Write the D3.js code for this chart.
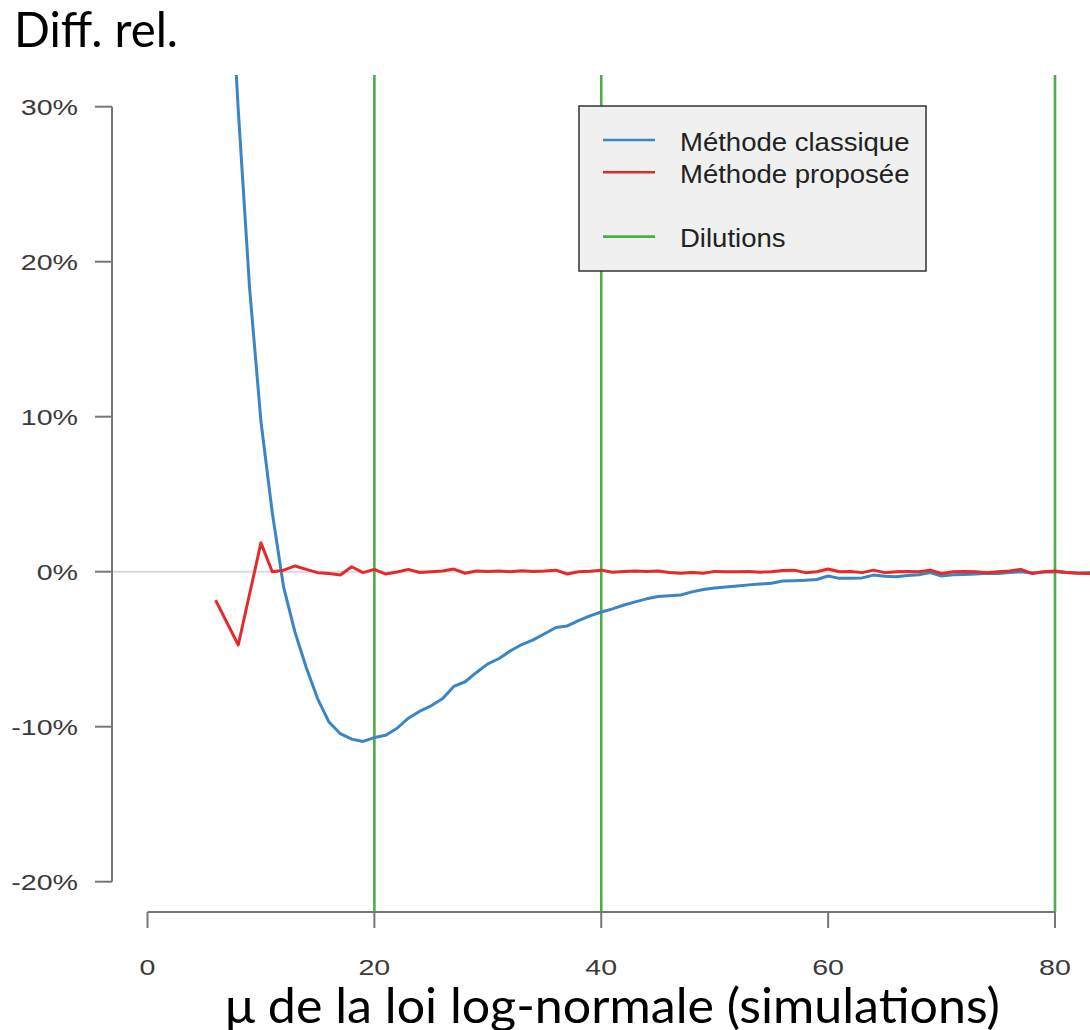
<!DOCTYPE html>
<html>
<head>
<meta charset="utf-8">
<script src="https://cdn.jsdelivr.net/npm/d3@7"></script>
<style>
  html, body { margin: 0; padding: 0; background: #fff; }
  svg { display: block; }
</style>
</head>
<body>
<svg id="chart" width="1090" height="1030"></svg>
<script>
/* ── Data ──────────────────────────────────────────────────── */
const muClassic = [6, 7, 8, 9, 10, 11, 12, 13, 14, 15, 16, 17, 18, 19, 20, 21, 22, 23, 24, 25,
  26, 27, 28, 29, 30, 31, 32, 33, 34, 35, 36, 37, 38, 39, 40, 41, 42, 43, 44, 45,
  46, 47, 48, 49, 50, 51, 52, 53, 54, 55, 56, 57, 58, 59, 60, 61, 62, 63, 64, 65,
  66, 67, 68, 69, 70, 71, 72, 73, 74, 75, 76, 77, 78, 79, 80, 81, 82, 83, 84];
const diffClassic = [58, 43, 29.8, 18.3, 9.7, 3.8, -1.0, -3.9, -6.2, -8.2, -9.7, -10.45, -10.8, -10.95, -10.7, -10.55, -10.1, -9.45, -9.0, -8.65,
  -8.2, -7.4, -7.1, -6.5, -5.95, -5.6, -5.1, -4.7, -4.4, -4.0, -3.6, -3.5, -3.15, -2.85, -2.6, -2.4, -2.15, -1.95, -1.75, -1.6,
  -1.55, -1.5, -1.3, -1.15, -1.05, -0.98, -0.92, -0.85, -0.8, -0.75, -0.6, -0.58, -0.55, -0.5, -0.28, -0.43, -0.42, -0.4, -0.22, -0.3,
  -0.32, -0.25, -0.2, -0.06, -0.28, -0.2, -0.18, -0.15, -0.1, -0.12, -0.05, 0, -0.08, -0.02, 0, -0.05, -0.08, -0.06, -0.08];

const muProposed = [6, 8, 10, 11, 12, 13, 14, 15, 16, 17, 18, 19, 20, 21, 22, 23, 24, 25,
  26, 27, 28, 29, 30, 31, 32, 33, 34, 35, 36, 37, 38, 39, 40, 41, 42, 43, 44, 45,
  46, 47, 48, 49, 50, 51, 52, 53, 54, 55, 56, 57, 58, 59, 60, 61, 62, 63, 64, 65,
  66, 67, 68, 69, 70, 71, 72, 73, 74, 75, 76, 77, 78, 79, 80, 81, 82, 83, 84];
const diffProposed = [-1.83, -4.73, 1.86, 0, 0.1, 0.37, 0.15, -0.06, -0.12, -0.21, 0.32, -0.06, 0.15, -0.15, -0.02, 0.15, -0.05, 0,
  0.05, 0.17, -0.1, 0.05, 0.02, 0.05, 0, 0.06, 0.02, 0.05, 0.1, -0.15, 0, 0.03, 0.1, -0.04, 0.02, 0.04, 0.02, 0.04,
  -0.05, -0.1, -0.05, -0.1, 0.02, 0, 0, 0.02, -0.03, 0, 0.08, 0.1, -0.06, 0, 0.17, 0, 0.02, -0.06, 0.1, -0.06,
  0, 0.02, 0, 0.1, -0.12, 0, 0.02, 0, -0.06, 0, 0.05, 0.15, -0.12, 0, 0.05, -0.05, -0.1, -0.12, -0.1];

const dilutions = [20, 40, 80];
const xTicks = [0, 20, 40, 60, 80];
const yTicks = [-20, -10, 0, 10, 20, 30];
const legendLabels = ['Méthode classique', 'Méthode proposée', '', 'Dilutions'];

const BLUE = '#3a85c4', RED = '#e52a2a', GREEN = '#4cae47';

/* ── Scales ────────────────────────────────────────────────── */
const svg = d3.select('#chart');
const x = d3.scaleLinear().domain([0, 80]).range([147.5, 1055]);
const y = d3.scaleLinear().domain([-20, 30]).range([881.7, 106.7]);
const plotTop = 75, plotBottom = 912, plotLeft = 112, plotRight = 1090;

svg.append('defs').append('clipPath').attr('id', 'plot-clip')
  .append('rect')
  .attr('x', plotLeft).attr('y', plotTop)
  .attr('width', plotRight - plotLeft).attr('height', plotBottom - plotTop);

const plot = svg.append('g').attr('clip-path', 'url(#plot-clip)');

// zero reference line
plot.append('line')
  .attr('x1', plotLeft).attr('x2', plotRight)
  .attr('y1', y(0)).attr('y2', y(0))
  .attr('stroke', '#dadada').attr('stroke-width', 2);

// dilution markers
plot.selectAll('line.dil').data(dilutions).enter().append('line')
  .attr('class', 'dil')
  .attr('x1', d => x(d)).attr('x2', d => x(d))
  .attr('y1', plotTop).attr('y2', plotBottom)
  .attr('stroke', GREEN).attr('stroke-width', 2.6);

const line = d3.line().x(d => x(d[0])).y(d => y(d[1]));

plot.append('path')
  .datum(d3.zip(muClassic, diffClassic))
  .attr('d', line)
  .attr('fill', 'none').attr('stroke', BLUE).attr('stroke-width', 3)
  .attr('stroke-linejoin', 'round');

plot.append('path')
  .datum(d3.zip(muProposed, diffProposed))
  .attr('d', line)
  .attr('fill', 'none').attr('stroke', RED).attr('stroke-width', 3)
  .attr('stroke-linejoin', 'round');

/* ── Axes (R style, stretched labels) ──────────────────────── */
const AXIS_COL = '#777';
const yAxis = svg.append('g');
yAxis.append('line')
  .attr('x1', 112).attr('x2', 112)
  .attr('y1', y(30)).attr('y2', y(-20))
  .attr('stroke', AXIS_COL).attr('stroke-width', 2);
yAxis.selectAll('line.tick').data(yTicks).enter().append('line')
  .attr('class', 'tick')
  .attr('x1', 95).attr('x2', 112)
  .attr('y1', d => y(d)).attr('y2', d => y(d))
  .attr('stroke', AXIS_COL).attr('stroke-width', 2);
yAxis.selectAll('text').data(yTicks).enter().append('text')
  .attr('transform', d => `translate(78,${y(d) + 7.8}) scale(1.33,1)`)
  .attr('text-anchor', 'end')
  .attr('font-family', 'Liberation Sans, Arial, sans-serif')
  .attr('font-size', 21.5)
  .attr('fill', '#3a3a3a')
  .text(d => d + '%');

const xAxis = svg.append('g');
xAxis.append('line')
  .attr('x1', x(0)).attr('x2', x(80))
  .attr('y1', 912).attr('y2', 912)
  .attr('stroke', AXIS_COL).attr('stroke-width', 2);
xAxis.selectAll('line.tick').data(xTicks).enter().append('line')
  .attr('class', 'tick')
  .attr('x1', d => x(d)).attr('x2', d => x(d))
  .attr('y1', 912).attr('y2', 928)
  .attr('stroke', AXIS_COL).attr('stroke-width', 2);
xAxis.selectAll('text').data(xTicks).enter().append('text')
  .attr('transform', d => `translate(${x(d)},975) scale(1.33,1)`)
  .attr('text-anchor', 'middle')
  .attr('font-family', 'Liberation Sans, Arial, sans-serif')
  .attr('font-size', 21.5)
  .attr('fill', '#3a3a3a')
  .text(d => d);

/* ── Legend ────────────────────────────────────────────────── */
const legend = svg.append('g');
legend.append('rect')
  .attr('x', 579).attr('y', 106).attr('width', 347).attr('height', 165)
  .attr('fill', '#f0f0f0').attr('stroke', '#333').attr('stroke-width', 1.5);
const legendColors = [BLUE, RED, null, GREEN];
legendLabels.forEach((lab, i) => {
  if (!lab) return;
  const ly = 140 + i * 32.2;
  legend.append('line')
    .attr('x1', 603).attr('x2', 655).attr('y1', ly).attr('y2', ly)
    .attr('stroke', legendColors[i]).attr('stroke-width', 2.6);
  legend.append('text')
    .attr('transform', `translate(680,${ly + 10.5}) scale(1.08,1)`)
    .attr('font-family', 'Liberation Sans, Arial, sans-serif')
    .attr('font-size', 25.5)
    .attr('fill', '#222')
    .text(lab);
});

/* ── Titles ────────────────────────────────────────────────── */
svg.append('text')
  .attr('x', 14).attr('y', 47)
  .attr('font-family', 'Lato, "Open Sans", sans-serif')
  .attr('font-size', 49)
  .attr('textLength', 164).attr('lengthAdjust', 'spacingAndGlyphs')
  .attr('fill', '#000')
  .text('Diff. rel.');

svg.append('text')
  .attr('x', 225).attr('y', 1023)
  .attr('font-family', 'Lato, "Open Sans", sans-serif')
  .attr('font-size', 49)
  .attr('textLength', 775).attr('lengthAdjust', 'spacingAndGlyphs')
  .attr('fill', '#000')
  .text('μ de la loi log-normale (simulations)');
</script>
</body>
</html>
